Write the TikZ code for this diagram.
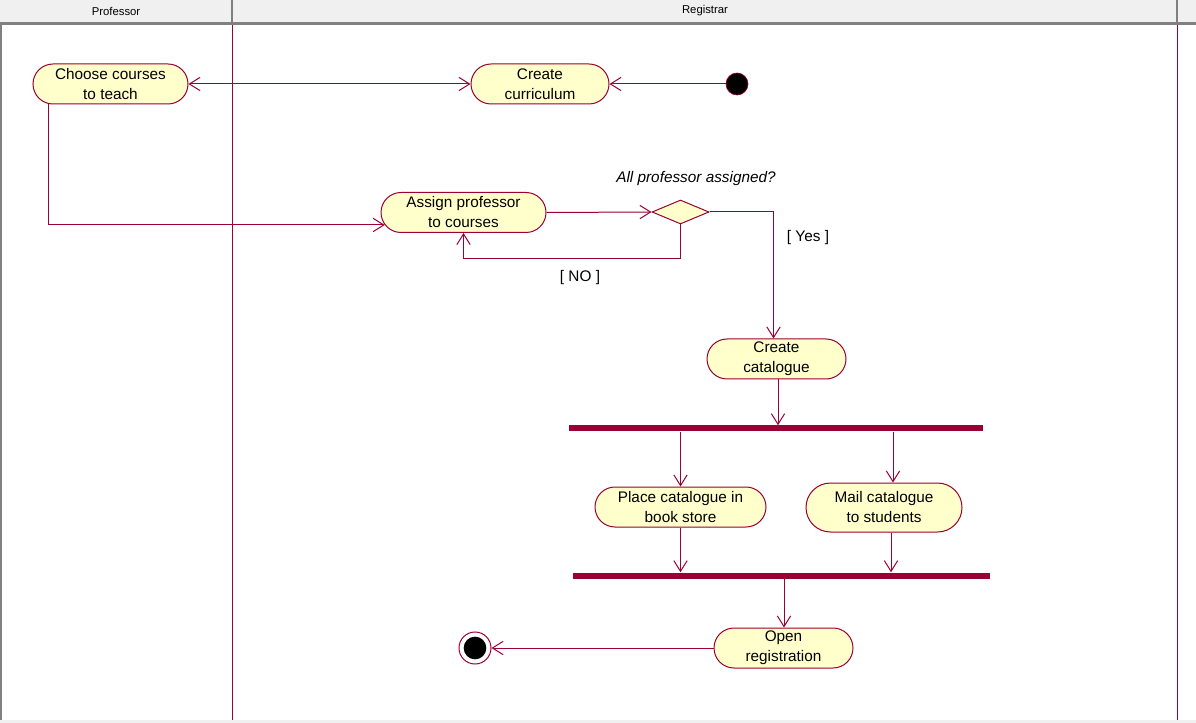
\documentclass[tikz,border=0pt]{standalone}
\usepackage{fontspec}
\setmainfont{Liberation Sans}
\usetikzlibrary{shapes.misc,shapes.geometric,arrows.meta,calc}
\definecolor{crim}{HTML}{990033}
\definecolor{ylw}{HTML}{FFFFCC}
\definecolor{hdr}{HTML}{F0F0F0}
\definecolor{hdrline}{HTML}{808080}
\tikzset{
  barb/.tip={Straight Barb[length=8pt,width=10pt]},
  act/.style={rounded rectangle, draw=crim, fill=ylw, line width=0.75pt,
    minimum height=30pt, inner sep=0pt, align=center,
    font=\fontsize{11.5}{15}\selectfont},
  flow/.style={draw=crim, line width=0.75pt, -barb},
  syncbar/.style={rectangle, fill=crim, draw=none, inner sep=0pt, minimum height=4.5pt},
  lbl/.style={inner sep=0pt, font=\fontsize{11.5}{14}\selectfont},
  lane/.style={draw=crim, line width=0.75pt},
  hdrtext/.style={inner sep=0pt, font=\fontsize{8.5}{10}\selectfont},
}
\begin{document}
\begin{tikzpicture}[x=0.75pt,y=-0.75pt]
\useasboundingbox (0,0) rectangle (1196,723);
\fill[white] (0,0) rectangle (1196,723);
% header
\fill[hdr] (0,0) rectangle (1196,22);
\draw[hdrline, line width=2.25pt] (0,23.5) -- (1196,23.5);
\draw[hdrline, line width=1.5pt] (232,0) -- (232,22) (1177,0) -- (1177,22);
\draw[hdrline, line width=1.5pt] (1,25) -- (1,720);
\fill[hdr] (0,720) rectangle (1196,723);
\node[hdrtext] (hprof) at (116,11) {Professor};
\node[hdrtext] (hreg) at (705,11) {Registrar};
% lanes
\draw[lane] (232,25) -- (232,720);
\draw[lane] (1177,25) -- (1177,720);
% activities
\node[act, minimum width=116.25pt] (choose) at (110.5,84) {Choose courses\\to teach};
\node[act, minimum width=103.5pt] (create) at (540,84) {Create\\curriculum};
\node[act, minimum width=123.75pt] (assign) at (463.5,212.5) {Assign professor\\to courses};
\node[act, minimum width=104.25pt] (cat) at (776.5,359) {Create\\catalogue};
\node[act, minimum width=128.25pt] (place) at (680.5,507) {Place catalogue in\\book store};
\node[act, minimum width=117pt, minimum height=36.75pt] (mail) at (884,507.5) {Mail catalogue\\to students};
\node[act, minimum width=104.25pt] (open) at (783.5,648) {Open\\registration};
% start / end / decision / bars
\node[circle, fill=black, draw=crim, line width=0.5pt, minimum size=16.5pt, inner sep=0pt] (start) at (737,84) {};
\node[circle, fill=white, draw=crim, line width=0.75pt, minimum size=24pt, inner sep=0pt] (end) at (475,648) {};
\node[circle, fill=black, minimum size=17pt, inner sep=0pt] (endin) at (end.center) {};
\node[diamond, draw=crim, fill=ylw, line width=0.75pt, minimum width=42.75pt, minimum height=18pt, inner sep=0pt] (dia) at (680.5,212) {};
\node[syncbar, minimum width=310.5pt] (bar1) at (776,428.5) {};
\node[syncbar, minimum width=312.75pt] (bar2) at (781.5,575.5) {};
% labels
\node[lbl, font=\fontsize{11.5}{14}\selectfont\itshape] (q) at (696,179) {All professor assigned?};
\node[lbl] (yes) at (808,238) {[ Yes ]};
\node[lbl] (no) at (580,278) {[ NO ]};
% connectors
\draw[flow] (start) -- (create.east);
\draw[draw=crim, line width=0.75pt, barb-barb] (choose.east) -- (create.west);
\draw[flow] ($(choose.south)+(-62.5,0)$) |- (assign.189);
\draw[flow] (assign.east) -- (dia.west);
\draw[flow] (dia.south) -- ++(0,34) -| (assign.south);
\draw[flow] (dia.east) -| ($(cat.north)+(-3,0)$);
\draw[flow] ($(cat.south)+(1.5,0)$) -- ($(cat.south |- bar1.north)+(1.5,0)$);
\draw[flow] (place.north |- bar1.south) -- (place.north);
\draw[flow] ($(mail.north |- bar1.south)+(9,0)$) -- ($(mail.north)+(9,0)$);
\draw[flow] (place.south) -- (place.south |- bar2.north);
\draw[flow] ($(mail.south)+(7,0)$) -- ($(mail.south |- bar2.north)+(7,0)$);
\draw[flow] ($(open.north |- bar2.south)+(0.5,0)$) -- ($(open.north)+(0.5,0)$);
\draw[flow] (open.west) -- (end);
\end{tikzpicture}
\end{document}
